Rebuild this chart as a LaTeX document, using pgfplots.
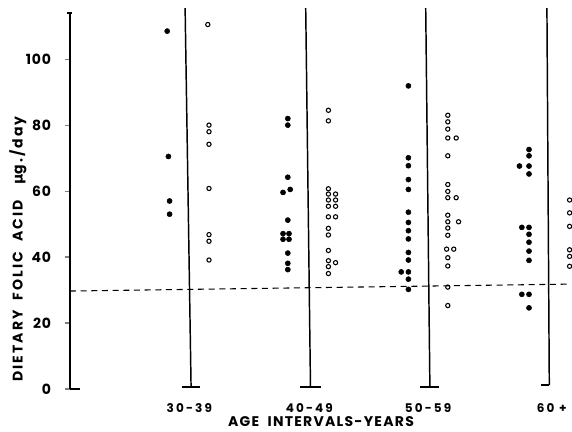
\documentclass[border=0pt]{standalone}
\usepackage{fontspec}
\setmainfont{Poppins}
\newfontfamily\dv{DejaVu Sans}
\usepackage{pgfplots}
\pgfplotsset{compat=1.18}
\pgfplotstableread{
x y
-0.20 108.5
-0.19 70.5
-0.18 57.0
-0.18 53.0
0.81 82.0
0.81 80.0
0.81 64.2
0.83 60.5
0.77 59.6
0.81 51.2
0.77 47.1
0.82 47.1
0.77 45.4
0.82 45.4
0.81 41.2
0.81 38.1
0.81 36.2
1.82 91.9
1.82 70.1
1.82 67.7
1.82 63.5
1.82 60.5
1.82 53.6
1.82 50.5
1.82 48.0
1.82 45.5
1.82 41.4
1.82 39.1
1.82 35.5
1.76 35.5
1.82 33.3
1.82 30.2
2.83 72.6
2.83 70.7
2.83 67.6
2.75 67.6
2.83 65.2
2.83 49.0
2.77 49.0
2.83 46.9
2.83 44.5
2.83 41.8
2.83 39.0
2.83 28.7
2.77 28.7
2.83 24.6
}\filled
\pgfplotstableread{
x y
0.14 110.5
0.15 80.0
0.15 78.0
0.15 74.2
0.15 60.8
0.15 46.8
0.15 44.8
0.15 39.1
1.15 84.5
1.15 81.3
1.15 60.7
1.15 59.1
1.15 57.3
1.15 55.4
1.15 52.2
1.15 48.7
1.15 46.7
1.15 42.0
1.15 38.9
1.15 37.1
1.15 35.0
1.21 59.1
1.21 57.3
1.21 55.4
1.21 52.2
1.21 38.3
2.15 83.0
2.15 81.0
2.15 78.8
2.15 76.1
2.15 70.7
2.15 62.0
2.15 59.9
2.15 58.0
2.15 52.7
2.15 50.7
2.15 48.8
2.15 46.6
2.14 42.4
2.15 39.8
2.15 37.3
2.15 30.9
2.15 25.3
2.22 76.1
2.22 58.0
2.24 50.7
2.20 42.4
3.17 57.3
3.17 53.4
3.17 49.3
3.17 42.2
3.17 40.2
3.17 37.2
}\opendots
\begin{document}
\begin{tikzpicture}
\useasboundingbox (-52.5pt,-32.25pt) rectangle (376.5pt,291.75pt);
\begin{axis}[
  at={(0,0)}, anchor=south west,
  scale only axis, width=376.5pt, height=282pt,
  xmin=-1.014, xmax=3.19, ymin=0, ymax=114,
  clip=false,
  axis y line*=left, axis x line*=bottom,
  x axis line style={draw=none},
  y axis line style={line width=0.9pt},
  xtick={-0.015,0.99,1.985,3.02},
  xticklabels={30-39,40-49,50-59,60\ +},
  xtick style={draw=none},
  ytick={0,20,40,60,80,100},
  ytick style={line width=0.9pt},
  tick align=outside, major tick length=4pt,
  /pgf/number format/assume math mode=true,
  yticklabel style={font=\fontsize{10.5}{12}\selectfont\bfseries\addfontfeatures{LetterSpace=6}, anchor=east, inner sep=0pt, xshift=-10pt},
  xticklabel style={font=\fontsize{9}{11}\selectfont\bfseries\addfontfeatures{LetterSpace=18}, anchor=base, inner sep=0pt, yshift=-13.5pt},
  xlabel={AGE\ \ INTERVALS-YEARS},
  xlabel style={font=\fontsize{10.5}{12}\selectfont\bfseries\addfontfeatures{LetterSpace=9}, at={(axis description cs:0.5,-0.1)}, anchor=base, inner sep=0pt},
  ylabel={DIETARY\ \ FOLIC\ \ ACID\ \ \ {\dv\bfseries µ}g./day},
  ylabel style={font=\fontsize{10.5}{12}\selectfont\bfseries\addfontfeatures{LetterSpace=15}, at={(axis description cs:-0.1036,0.372)}, anchor=center, rotate=0, inner sep=0pt},
]
% category lines with base ticks
\addplot[black, line width=1.1pt] coordinates {(-0.05,115.5) (0,0.6)};
\addplot[black, line width=1.1pt] coordinates {(-0.075,0.6) (0.075,0.6)};
\addplot[black, line width=1.1pt] coordinates {(0.96,115.5) (1,0.6)};
\addplot[black, line width=1.1pt] coordinates {(0.91,0.6) (1.085,0.6)};
\addplot[black, line width=1.1pt] coordinates {(1.965,115.5) (2,0.6)};
\addplot[black, line width=1.1pt] coordinates {(1.92,0.6) (2.075,0.6)};
\addplot[black, line width=1.1pt] coordinates {(2.98,115.5) (3,1.2)};
\addplot[black, line width=1.1pt] coordinates {(2.93,1.2) (3.0,1.2)};
% axis stubs
\addplot[black, line width=0.9pt] coordinates {(-1.014,0) (-0.93,0)};
\addplot[black, line width=0.9pt] coordinates {(-1.04,114) (-0.995,114)};
% dashed reference line
\addplot[black, line width=0.8pt, dash pattern=on 4.5pt off 3.5pt] coordinates {(-1.014,29.7) (3.17,31.8)};
% dots
\addplot[only marks, mark=*, mark size=1.9pt, black] table {\filled};
\addplot[only marks, mark=o, mark size=1.6pt, black, mark options={line width=0.8pt}] table {\opendots};
\end{axis}
\end{tikzpicture}
\end{document}
